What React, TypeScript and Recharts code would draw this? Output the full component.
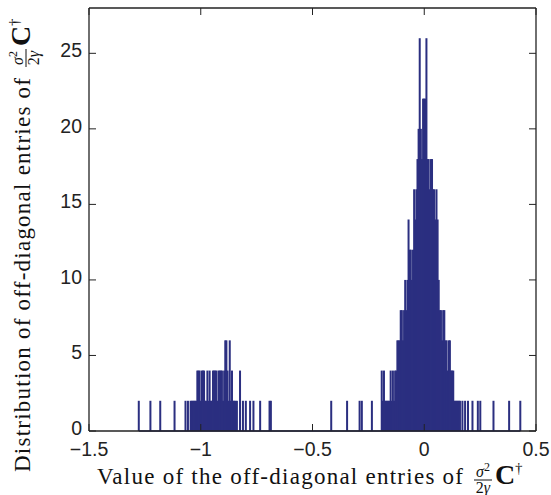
import { Bar, ComposedChart, ReferenceLine, XAxis, YAxis } from "recharts";

// histogram bins, left cluster (around -0.9)
const leftBins = [
  -1.277, -1.225, -1.181, -1.117, -1.068, -1.057,
  -1.045, -1.04, -1.035, -1.03, -1.025, -1.02, -1.015, -1.01, -1.005, -1.0,
  -0.995, -0.99, -0.985, -0.98, -0.975, -0.97, -0.965, -0.96, -0.955, -0.95,
  -0.945, -0.94, -0.935, -0.93, -0.925, -0.92, -0.915, -0.91, -0.905, -0.9,
  -0.895, -0.89, -0.885, -0.88, -0.875, -0.87, -0.865, -0.86, -0.855, -0.85, -0.845,
  -0.838, -0.824, -0.811, -0.798, -0.779, -0.764, -0.734, -0.692, -0.686
];
const leftCounts = [
  2, 2, 2, 2, 2, 2,
  2, 2, 2, 2, 2, 2, 4, 4, 4, 2,
  4, 4, 4, 2, 2, 4, 2, 4, 2, 2,
  4, 4, 4, 4, 2, 4, 4, 4, 4, 2,
  4, 6, 6, 4, 2, 6, 2, 4, 2, 2, 2,
  2, 4, 2, 2, 2, 2, 2, 2, 2
];

// sparse bins between the clusters
const middleBins = [-0.416, -0.345, -0.289, -0.279, -0.234];
const middleCounts = [2, 2, 2, 2, 2];

// main peak around 0
const peakBins = [
  -0.19, -0.185, -0.18, -0.175, -0.17, -0.165, -0.16, -0.155, -0.15, -0.145,
  -0.14, -0.135, -0.13, -0.125, -0.12, -0.115, -0.11, -0.105, -0.1, -0.095,
  -0.09, -0.085, -0.08, -0.075, -0.07, -0.065, -0.06, -0.055, -0.05, -0.045,
  -0.04, -0.035, -0.03, -0.025, -0.02, -0.015, -0.01, -0.005, 0.0, 0.005,
  0.01, 0.015, 0.02, 0.025, 0.03, 0.035, 0.04, 0.045, 0.05, 0.055,
  0.06, 0.065, 0.07, 0.075, 0.08, 0.085, 0.09, 0.095, 0.1, 0.105,
  0.11, 0.115, 0.12, 0.125, 0.13, 0.135, 0.14, 0.145, 0.15, 0.155, 0.16
];
const peakCounts = [
  4, 2, 4, 2, 2, 2, 2, 2, 4, 2,
  4, 2, 4, 4, 6, 6, 6, 8, 8, 6,
  8, 10, 8, 10, 14, 12, 12, 10, 12, 16,
  14, 16, 18, 20, 26, 20, 18, 22, 22, 22,
  26, 18, 18, 16, 18, 18, 16, 16, 14, 16,
  14, 10, 8, 8, 6, 8, 8, 6, 6, 4,
  6, 6, 4, 4, 4, 2, 2, 2, 2, 2, 2
];

// right tail
const rightBins = [0.171, 0.183, 0.196, 0.216, 0.24, 0.251, 0.31, 0.38, 0.43];
const rightCounts = [2, 2, 2, 2, 2, 2, 2, 2, 2];

const xTicks = [-1.5, -1, -0.5, 0, 0.5];
const yTicks = [0, 5, 10, 15, 20, 25];

const barColor = "#2b2f80";
const axisColor = "#222";

const toRows = (bins: number[], counts: number[]) => bins.map((x, i) => ({ x, count: counts[i] }));
const data = [
  ...toRows(leftBins, leftCounts),
  ...toRows(middleBins, middleCounts),
  ...toRows(peakBins, peakCounts),
  ...toRows(rightBins, rightCounts)
];

const W = 551;
const H = 495;
const axisH = 64;
const axisW = 89;
const margin = { top: 8, right: 15, bottom: 0, left: 0 };
const plotW = W - axisW - margin.right;
const plotH = H - margin.top - axisH;
const tickLen = 7;
const stemWidth = 2;
const labelFont = "'Liberation Sans', Arial, sans-serif";

const fmt = (v: number) => (v < 0 ? "\u2212" + String(-v) : String(v));

// each bin drawn as a thin stem centred on its bin position
function Stem(props: any) {
  const { x, y, width, height } = props;
  if (!height) return null;
  const cx = x + width / 2;
  return <rect x={cx - stemWidth / 2} y={y} width={stemWidth} height={height} fill={barColor} />;
}

function XTick(props: any) {
  const { x, y, payload } = props;
  return (
    <g>
      <line x1={x} x2={x} y1={y} y2={y - tickLen} stroke={axisColor} />
      <line x1={x} x2={x} y1={y - plotH} y2={y - plotH + tickLen} stroke={axisColor} />
      <text x={x} y={y + 25} textAnchor="middle" fontSize={19.5} fontFamily={labelFont} fill={axisColor}>
        {fmt(payload.value)}
      </text>
    </g>
  );
}

function YTick(props: any) {
  const { x, y, payload } = props;
  return (
    <g>
      <line x1={x} x2={x + tickLen} y1={y} y2={y} stroke={axisColor} />
      <line x1={x + plotW} x2={x + plotW - tickLen} y1={y} y2={y} stroke={axisColor} />
      <text x={x - 7} y={y + 4} textAnchor="end" fontSize={19.5} fontFamily={labelFont} fill={axisColor}>
        {fmt(payload.value)}
      </text>
    </g>
  );
}

function MathTitle({ text, length }: { text: string; length: number }) {
  const ink = "#111";
  return (
    <g fontFamily="'Liberation Serif', 'Times New Roman', serif" fill={ink}>
      <text x={0} y={0} fontSize={23} textLength={length} lengthAdjust="spacing">{text}</text>
      <text x={length + 20} y={-7} fontSize={16} textAnchor="middle">
        <tspan fontStyle="italic">σ</tspan>
        <tspan fontSize={12} dy={-6}>2</tspan>
      </text>
      <line x1={length + 11} x2={length + 29} y1={-4} y2={-4} stroke={ink} strokeWidth={1} />
      <text x={length + 20} y={9} fontSize={16} textAnchor="middle">
        2<tspan fontStyle="italic">γ</tspan>
      </text>
      <text x={length + 32} y={0} fontSize={28} fontWeight="bold">C</text>
      <text x={length + 52} y={-11} fontSize={15}>†</text>
    </g>
  );
}

export default function App() {
  return (
    <div style={{ position: "absolute", left: 0, top: 0, width: W, height: H, background: "#fff" }}>
      <ComposedChart width={W} height={H} data={data} margin={margin}>
        <XAxis
          dataKey="x"
          type="number"
          domain={[-1.5, 0.5]}
          ticks={xTicks}
          allowDataOverflow
          height={axisH}
          tickSize={0}
          tickMargin={0}
          tickLine={false}
          axisLine={{ stroke: axisColor, strokeWidth: 1.3 }}
          tick={(p: any) => <XTick {...p} />}
        />
        <YAxis
          type="number"
          domain={[0, 28]}
          ticks={yTicks}
          allowDataOverflow
          width={axisW}
          tickSize={0}
          tickMargin={0}
          tickLine={false}
          axisLine={{ stroke: axisColor, strokeWidth: 1.3 }}
          tick={(p: any) => <YTick {...p} />}
        />
        <ReferenceLine y={28} stroke={axisColor} strokeWidth={1.3} />
        <ReferenceLine x={0.5} stroke={axisColor} strokeWidth={1.3} ifOverflow="visible" />
        <Bar dataKey="count" fill={barColor} barSize={2} shape={(p: any) => <Stem {...p} />} isAnimationActive={false} />
        <ReferenceLine
          segment={[{ x: leftBins[0], y: 0 }, { x: rightBins[rightBins.length - 1], y: 0 }]}
          stroke={barColor}
          strokeWidth={1.5}
        />
      </ComposedChart>
      <svg width={W} height={H} style={{ position: "absolute", left: 0, top: 0, pointerEvents: "none" }}>
        <g transform="translate(97,484)">
          <MathTitle text="Value of the off-diagonal entries of" length={366} />
        </g>
        <g transform="translate(30,472) rotate(-90)">
          <MathTitle text="Distribution of off-diagonal entries of" length={394} />
        </g>
      </svg>
    </div>
  );
}
